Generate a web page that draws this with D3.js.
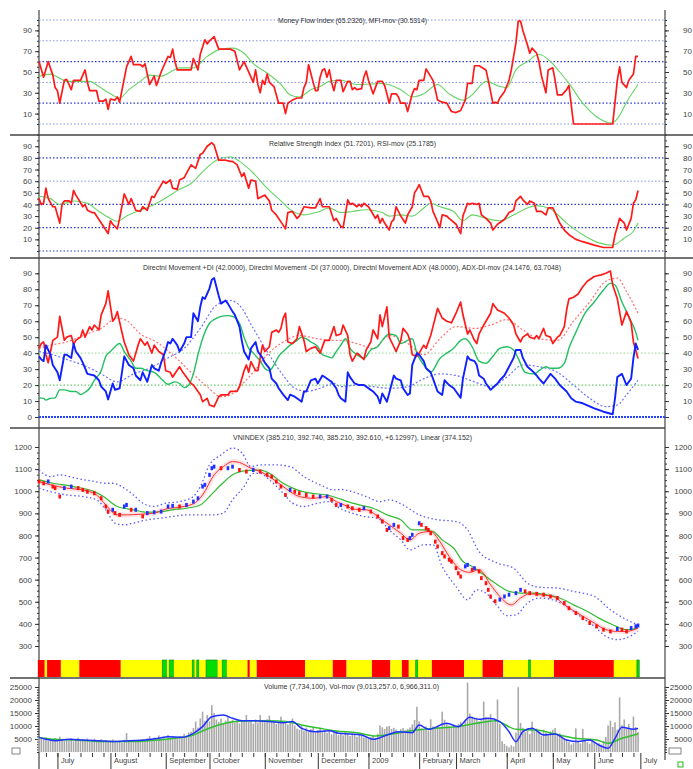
<!DOCTYPE html>
<html><head><meta charset="utf-8">
<script src="https://cdn.jsdelivr.net/npm/d3@7"></script>
<style>
body{margin:0;background:#fff}
svg{display:block}
text{font-family:"Liberation Sans",Arial,sans-serif}
.ax .domain{display:none}
.ax line{stroke:#333}
.ax text{fill:#444;font-size:8px}
</style></head>
<body><svg id="c" width="693" height="769"></svg>
<script>
// ---------- DATA (trading-day index, value) ----------
const monthDays=[8,31,55,74,98,121,143,165,181,203,223,241,261];
const monthNames=["July","August","September","October","November","December","2009","February","March","April","May","June","July"];

const mfi=[[0,60],[2,45],[4,60],[6,47],[7,35],[8,32],[9,20],[11,42],[12,43],[14,33],[15,42],[18,42],[20,52],[21,40],[22,32],[25,32],[26,22],[28,22],[29,24],[30,14],[31,24],[33,23],[34,26],[35,21],[38,55],[40,65],[41,57],[44,57],[45,55],[46,58],[48,38],[50,46],[51,37],[53,50],[56,65],[57,64],[58,72],[59,60],[60,52],[66,52],[67,63],[69,52],[70,67],[72,81],[73,77],[74,80],[76,84],[78,72],[83,72],[85,70],[87,52],[89,60],[92,45],[93,40],[94,52],[95,38],[96,30],[97,42],[98,38],[99,48],[100,40],[102,36],[104,20],[106,20],[107,10],[108,20],[110,23],[112,25],[114,25],[115,35],[116,40],[117,57],[119,40],[120,32],[121,32],[122,45],[123,52],[124,53],[125,45],[126,52],[127,40],[128,32],[129,42],[131,42],[132,31],[134,41],[135,41],[136,33],[137,35],[138,33],[140,34],[141,45],[142,51],[143,42],[145,29],[147,41],[149,41],[150,37],[151,29],[152,20],[153,29],[155,29],[156,26],[157,20],[159,20],[160,12],[162,29],[163,34],[164,33],[165,42],[167,42],[168,53],[171,42],[172,33],[173,23],[175,21],[177,20],[179,12],[181,11],[183,13],[185,23],[186,39],[188,39],[189,56],[191,56],[194,52],[195,42],[197,20],[198,21],[199,20],[200,25],[202,31],[204,42],[205,52],[207,78],[208,99],[209,99],[210,90],[212,76],[213,68],[214,73],[216,68],[217,60],[218,47],[220,30],[221,52],[223,54],[224,42],[225,28],[227,28],[229,33],[230,37],[232,0],[249,0],[251,42],[252,55],[253,40],[255,35],[256,42],[258,48],[259,65],[260,65]];
const mfiMov=[[0,46],[5,48],[9,44],[12,41],[22,41],[26,36],[31,29],[35,25],[39,33],[44,41],[48,47],[53,46],[57,50],[61,54],[67,54],[73,65],[79,72],[84,73],[89,68],[93,58],[99,49],[105,38],[109,28],[113,26],[118,33],[122,36],[126,41],[131,42],[138,38],[149,39],[157,33],[162,26],[167,29],[173,38],[178,29],[184,23],[188,28],[194,41],[200,36],[203,35],[207,52],[212,60],[217,67],[222,60],[226,50],[230,39],[236,20],[242,7],[248,1],[251,5],[255,21],[260,38]];

const rsi=[[0,45],[1,40],[2,41],[3,54],[4,45],[6,38],[7,38],[9,24],[10,40],[11,43],[13,43],[14,41],[15,52],[16,48],[17,45],[19,38],[20,40],[21,35],[23,33],[24,33],[26,27],[28,21],[30,15],[31,26],[32,23],[34,19],[35,28],[37,49],[39,40],[40,45],[42,35],[44,34],[45,38],[47,35],[49,47],[50,46],[51,50],[54,60],[55,58],[57,61],[58,54],[60,53],[61,61],[63,63],[66,74],[68,71],[70,83],[71,84],[73,90],[75,93],[76,91],[78,78],[80,78],[81,78],[83,77],[84,77],[86,74],[88,64],[89,67],[91,54],[92,61],[94,60],[95,45],[97,47],[98,48],[100,43],[101,35],[103,31],[105,25],[107,19],[108,33],[110,34],[112,28],[113,30],[115,38],[118,37],[120,37],[122,45],[123,38],[126,38],[128,26],[129,28],[131,21],[132,20],[134,44],[135,40],[136,41],[138,38],[139,40],[140,38],[141,41],[143,38],[144,35],[146,28],[147,31],[148,24],[149,28],[150,24],[152,18],[153,25],[154,27],[155,38],[156,34],[157,30],[159,24],[160,31],[162,38],[163,50],[164,53],[165,57],[167,47],[169,47],[170,43],[171,34],[173,25],[174,20],[175,31],[177,30],[178,28],[181,23],[183,15],[184,30],[186,41],[187,40],[188,41],[190,40],[191,41],[192,31],[194,28],[196,24],[197,18],[199,23],[202,27],[203,30],[204,33],[206,35],[207,43],[209,47],[210,44],[212,40],[213,43],[215,41],[216,34],[218,34],[220,31],[221,37],[223,37],[224,33],[226,24],[228,18],[230,14],[233,10],[236,8],[241,5],[245,3],[249,3],[250,14],[252,28],[254,24],[255,18],[257,28],[258,41],[259,44],[260,52]];
const rsiMov=[[0,47],[5,45],[9,40],[15,43],[21,41],[26,34],[31,28],[34,25.5],[38,30],[44,35],[50,40],[55,45.5],[61,53],[66,58],[71,68],[77,78],[83,81],[87,77],[93,67],[99,54],[105,43],[109,35.5],[115,31],[121,33.5],[126,37],[131,33],[136,34],[142,35.5],[149,33],[152,30],[157,31],[162,30],[167,37],[170,41],[174,38],[180,34],[184,26],[188,31],[194,28],[200,26],[206,31],[212,37],[216,39],[222,36],[229,24],[236,14],[243,7],[249,5],[254,11],[258,17],[260,24]];

const diMinus=[[0,43],[1,46],[2,47],[3,39],[4,34],[5,41],[6,48],[8,50],[9,63],[11,48],[12,50],[14,51],[15,45.5],[16,48],[18,50],[19,54.5],[20,50],[22,56.6],[23,54.5],[24,57.6],[26,54.5],[27,64],[29,71],[30,79],[32,60],[33,62],[34,66],[36,53],[37,47],[39,39],[41,35],[43,45],[44,49],[46,45],[47,47],[49,40],[50,45],[52,41],[54,39],[55,29],[57,28],[58,25],[61,31.5],[62,29],[63,27],[66,21],[67,20],[69,16],[70,14],[71,9.6],[73,11.7],[74,7.5],[76,6.5],[78,12.7],[79,13.8],[82,13.8],[83,16],[86,16],[87,19],[89,29],[90,32.6],[91,28],[92,34.7],[94,29],[95,29],[97,45],[98,41],[100,44],[101,53],[103,54.5],[104,53],[105,55.5],[106,62],[107,65],[108,47],[110,46],[112,49],[113,56.6],[115,48],[116,41],[118,43],[120,44],[122,40],[124,48],[126,48],[128,56.6],[129,51],[131,52],[132,57.6],[134,51],[135,39],[136,35],[138,40],[139,39],[141,36],[142,42],[144,47],[145,54.5],[147,49],[148,64],[149,56.6],[151,69],[152,50],[154,44],[155,41],[157,48],[158,55.5],[160,52],[161,48],[162,39],[164,38],[165,40],[167,45],[168,43],[170,51],[171,56.6],[173,68],[175,62],[177,60],[179,59],[181,65],[183,72],[184,64],[186,52],[187,54.5],[189,48],[190,46],[191,52],[193,57.6],[194,60],[196,65],[197,71],[199,67],[202,65],[204,62],[206,57.6],[207,52],[209,47],[210,50],[212,52],[213,50],[215,49],[216,51],[217,49],[219,55.5],[220,51],[222,50],[223,46],[225,50],[226,51],[228,56.6],[229,67],[230,74],[232,75],[234,77],[236,81.6],[238,85],[241,88],[244,89],[246,90],[248,91.4],[249,82.7],[251,74],[253,57.6],[255,66],[257,59],[258,47],[260,36.7]];
const diPlus=[[0,38],[1,36],[2,35],[3,45],[5,39],[6,32.6],[8,28],[9,23],[11,39],[12,39],[14,37],[15,46],[16,41],[18,37],[19,34],[21,27],[24,26],[26,23],[27,19],[29,16],[30,11],[32,21],[33,17],[35,18],[37,38],[39,32.6],[41,30.5],[42,26],[44,23],[45,28],[47,22],[49,32.6],[50,30.5],[52,29],[53,34],[55,42],[56,47],[57,46],[58,49],[60,45],[61,41],[63,46],[64,50],[66,50],[67,65],[69,60],[70,69],[71,75],[72,74],[74,80.6],[75,86],[76,87],[78,76],[79,71],[81,73],[82,71],[84,66],[85,64],[87,56.6],[88,48],[89,41],[91,36],[92,43],[94,47],[95,41],[97,37],[98,34],[100,30.5],[101,24],[103,21],[104,18],[106,14],[108,10.6],[109,14],[111,12.7],[113,10.6],[114,9.6],[115,16],[116,16],[118,23],[120,24],[121,21],[123,26],[124,25],[126,23],[127,22],[129,18],[130,14],[131,11.7],[133,9.6],[134,28],[135,25],[137,21],[139,20],[141,20],[144,17],[145,16],[147,12.7],[148,8.6],[149,14.8],[151,9.6],[152,14.8],[154,26],[155,24],[157,23],[158,18],[160,13.8],[161,14.8],[162,32.6],[164,40],[165,39],[167,35],[168,30.5],[170,28],[171,24],[173,16],[175,13.8],[176,23],[178,20],[180,18],[181,16],[183,12],[184,24],[186,38],[187,36],[189,35],[190,32.6],[191,26],[193,24],[194,21],[196,17],[199,21],[200,23],[202,26],[204,31.5],[206,37],[207,42],[209,42],[210,37],[212,31.5],[214,29],[216,26],[217,24],[219,21],[220,23],[222,27],[224,24],[226,20],[229,16],[231,11.7],[233,9.6],[236,8.6],[241,5.4],[245,3.3],[249,1.7],[250,11.7],[251,25],[253,27],[255,20],[257,24],[258,37],[259,46],[260,42]];
const adx=[[0,12],[2,11.7],[3,10.6],[5,11.7],[7,12],[9,17],[11,17],[14,16],[16,16],[18,14],[20,15.5],[22,18],[24,23],[27,29],[29,38],[31,41],[33,44],[35,46],[37,41],[40,35],[42,30.5],[44,30.5],[47,29],[50,28],[53,24],[56,20.5],[59,22],[61,21],[63,18.4],[65,20],[67,27],[69,39],[71,49],[74,58.7],[76,61],[79,63],[82,63.5],[84,63],[87,58.7],[89,50],[91,43],[93,40],[96,35],[98,30.5],[100,29],[102,32.6],[104,38],[106,41],[109,45],[112,48],[114,50],[116,49],[118,47],[121,44],[123,39],[125,38],[127,37],[129,41],[131,45],[133,49],[135,43],[138,39],[141,36.7],[144,42],[147,44],[149,48],[152,52],[155,51],[157,46],[160,48],[162,49],[164,40],[167,32.6],[170,28],[174,36.7],[177,40],[180,43],[183,48],[185,49],[188,44],[191,35],[194,33.6],[197,38],[200,43],[203,44],[206,42],[208,36.7],[211,28],[215,27],[217,29],[220,31.5],[222,30.5],[225,30.5],[228,33.6],[230,43],[233,53],[237,65],[241,72],[245,79.5],[248,83.7],[250,82.7],[253,72],[256,63],[259,53],[260,48]];
const diMinusMov=[[0,43],[5,45],[12,47],[19,51],[27,55.5],[34,62],[38,60.5],[44,52],[51,47],[58,39],[66,28],[73,19],[79,12.7],[83,13.8],[87,19],[93,28],[99,39],[106,47],[113,51],[121,49],[128,48],[131,48],[138,46],[145,43],[152,51],[160,46],[167,39],[174,49],[181,56.6],[189,55.5],[196,57.6],[203,61],[210,54.5],[217,49],[225,48],[232,60],[239,72],[246,85],[251,87],[255,78.5],[260,65]];
const diPlusMov=[[0,41],[6,39],[12,36],[19,32.6],[27,27],[34,22],[41,27],[48,30.5],[56,37],[63,43],[70,55.5],[77,70],[83,73],[87,70],[93,55.5],[99,41],[106,26],[110,19],[116,16],[122,18],[128,21],[131,19],[138,20],[145,19],[152,18],[160,19],[167,24],[174,27],[181,26],[189,22],[196,19],[203,25],[210,32.6],[217,31.5],[225,28],[232,20],[239,11.7],[246,6.5],[251,7.5],[255,14],[260,23]];

const closeP=[[0,1044],[2,1036],[4,1044],[6,1021],[7,1014],[9,976],[11,1014],[14,1021],[17,1014],[19,1006],[21,998],[24,991],[27,968],[29,931],[30,908],[32,916],[33,901],[35,893],[37,931],[38,938],[40,916],[42,916],[45,886],[47,901],[50,905],[53,908],[56,931],[58,934],[61,931],[64,938],[67,953],[69,968],[71,1021],[72,1029],[74,1074],[75,1104],[76,1111],[79,1104],[82,1104],[84,1111],[87,1096],[90,1089],[93,1096],[96,1089],[99,1074],[101,1066],[103,1044],[105,1021],[107,983],[109,1006],[111,998],[113,991],[116,983],[119,976],[122,976],[125,976],[127,961],[129,938],[131,938],[134,931],[136,923],[139,916],[141,923],[144,908],[147,886],[149,863],[151,825],[152,833],[154,848],[156,840],[158,788],[160,780],[161,788],[162,803],[165,855],[166,848],[168,833],[169,825],[170,810],[172,772],[173,750],[175,720],[176,705],[178,690],[179,682],[181,652],[182,629],[183,614],[185,660],[186,667],[188,645],[189,652],[191,637],[192,607],[194,584],[195,554],[196,524],[198,502],[200,510],[202,524],[204,532],[207,539],[209,554],[211,547],[213,539],[216,536],[219,532],[222,524],[225,517],[228,494],[230,471],[233,449],[236,426],[239,404],[242,389],[245,374],[248,366],[251,377],[253,374],[255,366],[257,381],[259,389],[260,392.6]];
const maShort=[[0,1044],[5,1029],[12,1014],[19,1006],[25,983],[29,938],[34,893],[38,893],[44,896],[50,901],[55,919],[61,928],[67,943],[71,983],[76,1074],[80,1111],[84,1134],[87,1130],[92,1104],[96,1089],[100,1066],[105,1029],[109,998],[113,976],[119,968],[125,976],[129,953],[134,931],[136,919],[142,916],[148,878],[152,848],[157,810],[161,780],[165,810],[170,818],[174,772],[178,705],[183,645],[187,633],[191,645],[196,577],[200,524],[205,486],[209,517],[213,536],[217,532],[223,524],[229,479],[235,441],[241,404],[246,374],[251,366],[255,366],[260,381]];
const maLong=[[0,1051],[6,1036],[15,1021],[24,998],[28,976],[34,931],[41,916],[47,905],[53,908],[58,916],[64,923],[70,938],[74,976],[79,1029],[84,1074],[90,1093],[96,1096],[100,1081],[106,1036],[112,1006],[118,991],[125,983],[131,964],[134,953],[139,938],[145,923],[151,893],[157,871],[162,825],[167,825],[171,818],[175,780],[180,742],[184,682],[188,660],[193,622],[199,577],[204,547],[209,539],[215,539],[220,532],[226,517],[232,486],[238,456],[243,426],[249,396],[255,374],[260,381]];
const bandUpper=[[0,1096],[5,1066],[9,1074],[16,1059],[24,1044],[29,1036],[32,1036],[37,1014],[41,983],[45,946],[50,931],[55,946],[61,953],[67,976],[70,1021],[74,1119],[79,1164],[84,1195],[88,1175],[92,1111],[96,1119],[103,1119],[109,1111],[115,1066],[122,1029],[128,1006],[131,1008],[136,998],[142,976],[148,953],[152,961],[158,938],[165,893],[173,871],[181,863],[186,825],[191,727],[199,675],[206,652],[212,584],[217,566],[225,562],[232,547],[241,524],[248,464],[255,419],[260,396]];
const bandLower=[[0,1014],[5,998],[12,983],[19,976],[25,961],[29,916],[33,856],[37,848],[41,856],[47,871],[53,878],[58,886],[64,893],[70,893],[76,893],[80,901],[84,961],[89,1021],[93,1081],[96,1081],[100,1051],[106,991],[110,946],[115,931],[121,946],[126,953],[131,920],[136,901],[141,886],[147,878],[152,825],[157,780],[161,735],[167,758],[171,758],[175,660],[181,569],[186,509],[190,554],[194,539],[199,479],[203,437],[207,441],[212,494],[217,517],[223,509],[229,479],[235,434],[241,389],[246,344],[251,329],[255,337],[260,366]];

// signal band: [start day, state]  S=sell(red) N=neutral(yellow) B=buy(green)
const signalStart=[0,3,4,10,18,36,54,56,57,59,67,68,69,70,73,78,80,82,91,92,95,116,128,134,145,153,158,161,164,165,171,185,193,202,213,214,224,250,260];
const signalState=["S","N","S","N","S","N","B","N","B","N","B","N","B","N","B","N","B","N","S","N","S","N","S","N","S","N","S","N","B","N","S","N","S","N","B","N","S","N","B"];
const signalEnd=261;

// volume (thousands), one per trading day
const volume=[5800,5200,4900,5600,4300,5100,4700,5400,4600,5900,
4800,4200,5000,4500,5300,4100,4700,5500,4300,4900,
4600,5200,4000,4500,5100,3800,4400,4900,4200,4600,
3900,4300,4800,4100,3700,4400,3600,4700,7300,4200,
3800,4500,3900,4400,4100,5000,4600,5300,6100,4800,
5600,4900,6400,5200,5800,5100,6600,5500,6200,5800,
5400,6100,5900,7000,6300,7500,7800,9200,11700,9400,
12900,15500,12000,14200,11800,18000,15000,12500,11600,12800,
11200,12100,13600,11900,12400,11400,12700,11000,12300,11800,
14200,11600,12000,10900,12500,11300,14200,12100,11500,12600,
14000,11800,12200,10800,11400,13600,11200,12000,10600,11500,
12900,10200,9000,8600,10100,8200,9400,7900,8800,9600,
7600,8400,9100,7700,8500,7400,8200,6800,7600,8300,
6600,7200,6400,7800,6900,6200,7100,6500,5900,6800,
6300,5600,6000,5200,5800,6400,5500,7000,10200,9500,
8800,9800,10000,8900,9300,8600,7900,8800,9200,8400,
8900,9400,10600,12300,17400,11800,9200,8600,9800,8300,
12600,9900,8900,10200,9400,15500,12400,10900,10100,9600,
10300,9700,10800,11500,10200,12400,26700,14800,13600,12900,
13200,11800,12600,19400,13500,12800,14600,11500,12300,20200,
10800,4200,3100,2400,1800,2600,2100,7400,24900,11200,
9300,7600,8400,6900,11700,8200,9000,7800,6200,8600,
7400,6800,7900,8600,9200,6500,7100,5800,5200,4600,
3800,2900,3500,9100,4200,3300,8900,4600,3800,3200,
4100,3500,2700,3400,2900,4300,5800,10200,12000,9600,
11400,8600,21000,10300,12500,9200,10800,8700,13600,9600,7734];
const volMovFast=[[0,5640],[3,4870],[7,4360],[13,4870],[19,4600],[28,4230],[33,4000],[39,4360],[46,4600],[52,5260],[56,5900],[62,5640],[67,7180],[71,9740],[75,13590],[80,14230],[84,12950],[88,12050],[93,12050],[100,11700],[106,11280],[110,11700],[114,9100],[120,7820],[126,8200],[130,7180],[135,6920],[140,6540],[145,4870],[151,6540],[156,7820],[162,7440],[165,10400],[169,8720],[177,11030],[182,9740],[187,13330],[191,12560],[195,12950],[200,11700],[204,7820],[207,3970],[210,7820],[214,9100],[219,6540],[224,6920],[229,4600],[234,4000],[239,4600],[243,2690],[247,1410],[250,5260],[253,9490],[258,8720],[260,9013]];
const volMovSlow=[[0,5600],[7,4870],[16,4600],[28,4000],[42,4000],[51,4600],[59,5260],[67,6540],[72,8460],[78,10400],[85,11700],[93,12050],[100,12050],[107,11700],[114,10400],[122,9100],[129,8100],[138,7440],[146,6150],[155,7180],[164,8460],[172,9100],[181,9740],[190,11030],[198,12050],[207,8720],[216,8460],[224,6920],[233,5260],[242,4600],[247,3330],[253,5260],[260,6966]];

// ---------- DRAW ----------
const svg=d3.select("#c");
const L=39,R=665;
const x=d3.scaleLinear().domain([0,272]).range([L,665.7]);

const yMfi=d3.scaleLinear().domain([0,100]).range([124,20]);
const yRsi=d3.scaleLinear().domain([0,100]).range([251,134.6]);
const yDmi=d3.scaleLinear().domain([0,90]).range([417,273.3]);
const yPx=d3.scaleLinear().domain([300,1200]).range([646,447]);
const yVol=d3.scaleLinear().domain([0,25000]).range([752,687]);

function ln(y,curve){return d3.line().x(d=>x(d[0])).y(d=>y(d[1])).curve(curve||d3.curveLinear);}
function path(data,y,color,w,opts={}){
  const p=svg.append("path").datum(data).attr("fill","none").attr("stroke",color)
    .attr("stroke-width",w).attr("stroke-linejoin","round").attr("d",ln(y,opts.curve));
  if(opts.dash)p.attr("stroke-dasharray",opts.dash);
  if(opts.op)p.attr("opacity",opts.op);
  return p;
}
function grid(y,vals,color,dash,w){
  vals.forEach(v=>svg.append("line").attr("x1",L).attr("x2",R).attr("y1",y(v)).attr("y2",y(v))
    .attr("stroke",color).attr("stroke-width",w||1).attr("stroke-dasharray",dash));
}
function axes(y,labels,minor,fmt){
  const f=fmt||(d=>d);
  const gl=svg.append("g").attr("class","ax").attr("transform",`translate(${L},0)`);
  gl.call(d3.axisLeft(y).tickValues(minor).tickSize(2).tickFormat(""));
  const gl2=svg.append("g").attr("class","ax").attr("transform",`translate(${L},0)`);
  gl2.call(d3.axisLeft(y).tickValues(labels).tickSize(4).tickPadding(3).tickFormat(f));
  const gr=svg.append("g").attr("class","ax").attr("transform",`translate(${R},0)`);
  gr.call(d3.axisRight(y).tickValues(minor).tickSize(2).tickFormat(""));
  const gr2=svg.append("g").attr("class","ax").attr("transform",`translate(${R},0)`);
  gr2.call(d3.axisRight(y).tickValues(labels).tickSize(4).tickFormat(f));
  gr2.selectAll("text").attr("x",27).attr("text-anchor","end");
}
function title(t,x0,x1,yb){
  svg.append("text").attr("x",x0).attr("y",yb).attr("font-size",8).attr("fill","#333")
    .attr("textLength",x1-x0).attr("lengthAdjust","spacingAndGlyphs").text(t);
}
const smooth=d3.curveMonotoneX;

// frame
[135,258].forEach(v=>svg.append("line").attr("x1",10).attr("x2",693).attr("y1",v).attr("y2",v).attr("stroke","#444").attr("stroke-width",1.6));
[428,678].forEach(v=>svg.append("line").attr("x1",10).attr("x2",R).attr("y1",v).attr("y2",v).attr("stroke","#444").attr("stroke-width",1.6));
svg.append("line").attr("x1",L).attr("x2",L).attr("y1",10).attr("y2",769).attr("stroke","#444").attr("stroke-width",1.2);
svg.append("line").attr("x1",R).attr("x2",R).attr("y1",10).attr("y2",760).attr("stroke","#444").attr("stroke-width",1.2);

// ---- MFI panel ----
grid(yMfi,[100,80,40,0],"#8090ee","1.5,2",1);
grid(yMfi,[60,20],"#2838d8","1.5,2",1.2);
axes(yMfi,[10,30,50,70,90],d3.range(0,101,5));
title("Money Flow Index (65.2326), MFI-mov (30.5314)",278,427,23);
path(mfiMov,yMfi,"#66d466",1.1,{curve:smooth});
path(mfi,yMfi,"#ff1a1a",1.7);

// ---- RSI panel ----
grid(yRsi,[60],"#8090ee","1.5,2",1);
grid(yRsi,[80,40,20,0],"#2838d8","1.5,2",1.2);
axes(yRsi,d3.range(10,91,10),d3.range(0,101,5));
title("Relative Strength Index (51.7201), RSI-mov (25.1785)",269,436,146);
path(rsiMov,yRsi,"#66d466",1.1,{curve:smooth});
path(rsi,yRsi,"#ff1a1a",1.7);

// ---- DMI panel ----
grid(yDmi,[40],"#a8e0a8","1.5,2",1.2);
grid(yDmi,[20],"#6acc6a","1.5,2",1.2);
grid(yDmi,[0],"#2244ff","2,1",2);
axes(yDmi,d3.range(0,91,10),d3.range(0,91,5));
title("Directnl Movement +DI (42.0000), Directnl Movement -DI (37.0000), Directnl Movement ADX (48.0000), ADX-DI-mov (24.1476, 63.7048)",143,561,270);
path(diMinusMov,yDmi,"#ff7070",1.2,{curve:smooth,dash:"2,2"});
path(diPlusMov,yDmi,"#7070ff",1.2,{curve:smooth,dash:"2,2"});
path(adx,yDmi,"#22c060",1.4,{curve:smooth});
path(diMinus,yDmi,"#ff1a1a",1.7);
path(diPlus,yDmi,"#1020ff",1.9);

// ---- Price panel ----
axes(yPx,d3.range(300,1201,100),d3.range(300,1201,25));
title("VNINDEX (385.210, 392.740, 385.210, 392.610, +6.12997), Linear (374.152)",233,472,440);
path(maShort,yPx,"#ffc0c0",5,{curve:smooth,op:0.45});
path(bandUpper,yPx,"#5a5aff",1.3,{curve:smooth,dash:"1.5,2.5"});
path(bandLower,yPx,"#5a5aff",1.3,{curve:smooth,dash:"1.5,2.5"});
path(maLong,yPx,"#33bb33",1.2,{curve:smooth});
path(maShort,yPx,"#ff3030",1,{curve:smooth});
svg.append("g").selectAll("rect").data(closeP).join("rect")
  .attr("x",d=>x(d[0])-1.3).attr("y",d=>yPx(d[1])-2).attr("width",2.6).attr("height",4)
  .attr("fill",(d,i)=> i>0 && d[1]>=closeP[i-1][1] ? "#2030ff" : "#ff1010");

// signal band
const colorOf={S:"#ff0000",N:"#ffff00",B:"#00dd00"};
svg.append("g").selectAll("rect").data(signalStart).join("rect")
  .attr("x",(d)=>x(d-0.5)).attr("y",660).attr("height",17)
  .attr("width",(d,i)=>x((i+1<signalStart.length?signalStart[i+1]:signalEnd)-0.5)-x(d-0.5))
  .attr("fill",(d,i)=>colorOf[signalState[i]])
  .attr("stroke",(d,i)=>signalState[i]==="B"?"#108010":"none").attr("stroke-width",0.6);

// ---- Volume panel ----
axes(yVol,[5000,10000,15000,20000,25000],d3.range(0,25001,1000));
title("Volume (7,734,100), Vol-mov (9,013,257.0, 6,966,311.0)",264,439,689);
svg.append("g").selectAll("rect").data(volume).join("rect")
  .attr("x",(d,i)=>x(i)-0.8).attr("width",1.6)
  .attr("y",d=>yVol(d)).attr("height",d=>yVol(0)-yVol(d)).attr("fill","#a9a9a9");
path(volMovSlow,yVol,"#30c030",1.5,{curve:smooth});
path(volMovFast,yVol,"#2030ff",1.5,{curve:smooth});

// time axis
const gw=svg.append("g").attr("class","ax").attr("transform","translate(0,753)");
gw.call(d3.axisBottom(x).tickValues(d3.range(3,261,5)).tickSize(4).tickFormat(""));
const gm=svg.append("g").attr("class","ax").attr("transform","translate(0,753)");
gm.call(d3.axisBottom(x).tickValues(monthDays).tickSize(16).tickFormat((d,i)=>monthNames[i]));
gm.selectAll("text").attr("x",3).attr("y",5).attr("text-anchor","start").style("font-size","7.5px");

// small decorations
svg.append("rect").attr("x",12).attr("y",748).attr("width",8).attr("height",6).attr("fill","none").attr("stroke","#666").attr("stroke-width",0.8);
svg.append("rect").attr("x",669).attr("y",748).attr("width",12).attr("height",6).attr("fill","none").attr("stroke","#666").attr("stroke-width",0.8);
svg.append("rect").attr("x",678).attr("y",762).attr("width",5).attr("height",5).attr("fill","none").attr("stroke","#22bb22").attr("stroke-width",1);
</script></body></html>
